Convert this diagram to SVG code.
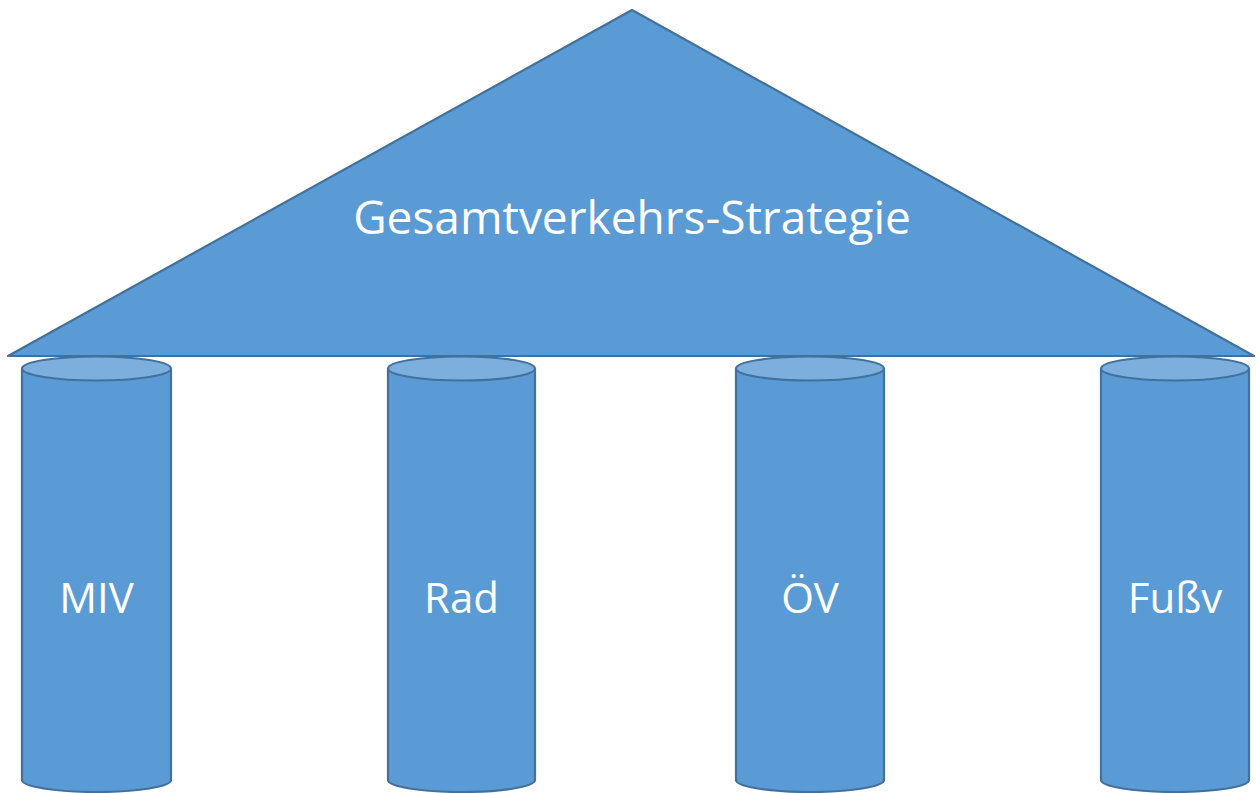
<svg xmlns="http://www.w3.org/2000/svg" width="1256" height="793" viewBox="0 0 1256 793">
<style>
.s{fill:#5B9BD5;stroke:#41719C;stroke-width:2.2;stroke-linejoin:round}
.top{fill:#7DAFDE;stroke:#41719C;stroke-width:2.2}
.t{font-family:"Open Sans","Noto Sans",sans-serif;fill:#fff;text-anchor:middle}
.l{font-size:42px}
</style>
<rect width="1256" height="793" fill="#fff"/>
<g id="roof">
<polygon class="s" points="632,10 8,356 1254,356"/>
<text class="t" x="632" y="234" font-size="46">Gesamtverkehrs-Strategie</text>
</g>
<g id="miv">
<path class="s" d="M22,368.5 V780 A74.5,12 0 0 0 171,780 V368.5"/>
<ellipse class="top" cx="96.5" cy="368.5" rx="74.5" ry="12"/>
<text class="t l" x="96.5" y="613">MIV</text>
</g>
<g id="rad">
<path class="s" d="M388,368.5 V780 A73.5,12 0 0 0 535,780 V368.5"/>
<ellipse class="top" cx="461.5" cy="368.5" rx="73.5" ry="12"/>
<text class="t l" x="461.5" y="613">Rad</text>
</g>
<g id="oev">
<path class="s" d="M736,368.5 V780 A74,12 0 0 0 884,780 V368.5"/>
<ellipse class="top" cx="810" cy="368.5" rx="74" ry="12"/>
<text class="t l" x="810" y="613">ÖV</text>
</g>
<g id="fuss">
<path class="s" d="M1101,368.5 V780 A74,12 0 0 0 1249,780 V368.5"/>
<ellipse class="top" cx="1175" cy="368.5" rx="74" ry="12"/>
<text class="t l" x="1175" y="613">Fußv</text>
</g>
</svg>
